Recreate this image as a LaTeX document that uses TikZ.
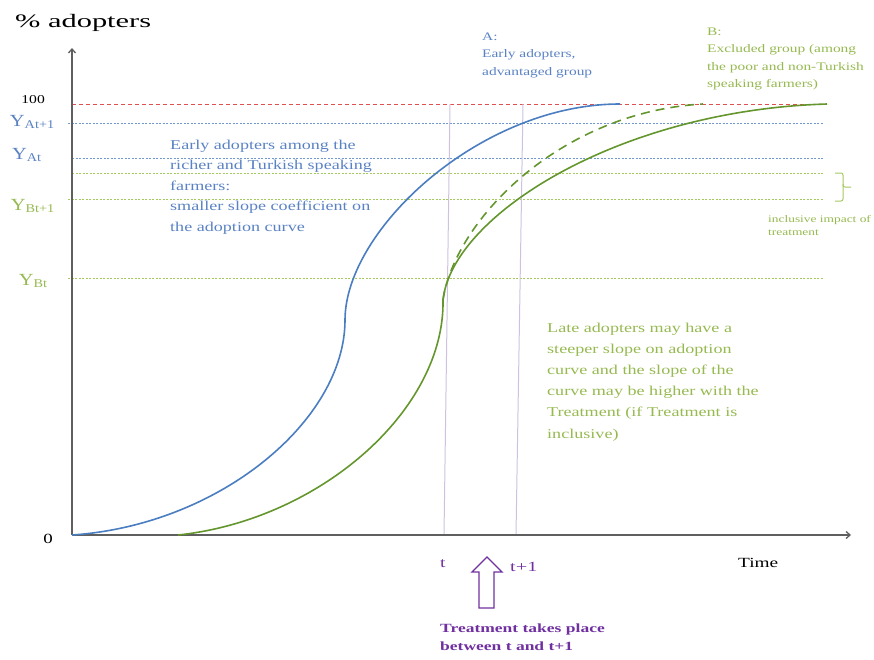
\documentclass[tikz,border=0pt]{standalone}
\usepackage{fontspec}
\usepackage{graphicx}
\setmainfont{Liberation Serif}
\usetikzlibrary{arrows.meta}
\definecolor{cblue}{RGB}{74,126,193}
\definecolor{tblue}{RGB}{90,130,195}
\definecolor{cgreen}{RGB}{100,150,45}
\definecolor{tgreen}{RGB}{150,185,80}
\definecolor{lgreen}{RGB}{165,200,95}
\definecolor{cred}{RGB}{225,80,80}
\definecolor{cpurple}{RGB}{112,48,160}
\definecolor{lpurple}{RGB}{205,195,225}
\definecolor{axisgray}{RGB}{95,95,95}
\newcommand{\wtext}[2][1.34]{\scalebox{#1}[1]{\begin{tabular}[t]{@{}l@{}}#2\end{tabular}}}
\tikzset{
  axisline/.style={draw=axisgray, line width=1.3pt, -{Straight Barb[length=4pt,width=7pt]}},
  refline/.style={line width=0.8pt, dash pattern=on 2pt off 1.5pt},
  curvea/.style={draw=cblue, line width=1.6pt},
  curveb/.style={draw=cgreen, line width=1.6pt},
  tline/.style={draw=lpurple, line width=1pt},
  lbl/.style={inner sep=0pt, anchor=base east},
  txt/.style={inner sep=0pt, anchor=base west},
}
\begin{document}
\begin{tikzpicture}[x=1pt,y=-1pt]
\useasboundingbox (0,0) rectangle (874,659);
% reference lines
\draw[refline, cred, dash pattern=on 4pt off 3pt] (72,104) -- (828,104);
\draw[refline, cblue!80] (68,123) -- (824,123);
\draw[refline, cblue!80] (72,158) -- (824,158);
\draw[refline, lgreen] (72,173) -- (824,173);
\draw[refline, lgreen] (68,199) -- (824,199);
\draw[refline, lgreen] (68,278) -- (824,278);
% time lines
\draw[tline] (444,535) -- (450,104);
\draw[tline] (516,535) -- (523,104);
% axes
\coordinate (O) at (72,535);
\coordinate (ytop) at (72,48);
\coordinate (xend) at (851,535);
\draw[axisline] (O) -- (ytop);
\draw[axisline] (O) -- (xend);
% curves
\draw[curvea] (72,535) .. controls (220,525) and (345,420) .. (345,320)
                        .. controls (345,230) and (480,104) .. (620,104);
\draw[curveb] (178,535) .. controls (320,520) and (445,410) .. (443,300)
                         .. controls (452,215) and (620,110) .. (827,104);
\draw[curveb, dash pattern=on 9pt off 6pt] (443,300) .. controls (455,220) and (560,112) .. (703,104);
% brace
\draw[draw=lgreen, line width=1pt, rounded corners=2pt] (835,173) -- (843,173) -- (843,187) -- (851,187);
\draw[draw=lgreen, line width=1pt, rounded corners=2pt] (843,184) -- (843,201) -- (835,201);
% axis labels
\node[txt, font=\fontsize{19}{19}\selectfont] (ylab) at (15,27) {\wtext[1.6]{\% adopters}};
\node[txt, font=\fontsize{14}{14}\selectfont] (xlab) at (738,567) {\wtext[1.38]{Time}};
\node[lbl, font=\fontsize{14}{14}\selectfont] (zero) at (53,543) {\scalebox{1.35}[1]{0}};
\node[lbl, font=\fontsize{12}{12}\selectfont] (hundred) at (45,103) {\scalebox{1.3}[1]{100}};
\node[lbl, text=tblue, font=\fontsize{17}{17}\selectfont] (yat1) at (55,126) {\scalebox{1.2}[1]{Y\textsubscript{At+1}}};
\node[lbl, text=tblue, font=\fontsize{17}{17}\selectfont] (yat) at (42,159) {\scalebox{1.2}[1]{Y\textsubscript{At}}};
\node[lbl, text=tgreen, font=\fontsize{17}{17}\selectfont] (ybt1) at (55,210) {\scalebox{1.2}[1]{Y\textsubscript{Bt+1}}};
\node[lbl, text=tgreen, font=\fontsize{17}{17}\selectfont] (ybt) at (48,285) {\scalebox{1.2}[1]{Y\textsubscript{Bt}}};
% time labels
\node[txt, text=cpurple, font=\fontsize{14}{14}\selectfont] (tl) at (440,567) {\scalebox{1.4}[1]{t}};
\node[txt, text=cpurple, font=\fontsize{14}{14}\selectfont] (t1l) at (510,571) {\scalebox{1.45}[1]{t+1}};
% hollow arrow
\draw[draw=cpurple, line width=1.3pt, line join=miter] (487,557) -- (502,572) -- (494,572) -- (494,608) -- (479,608) -- (479,572) -- (472,572) -- cycle;
\node[txt, text=cpurple, font=\bfseries\fontsize{12.5}{18}\selectfont] (treat) at (440,632) {\wtext[1.4]{Treatment takes place\\between t and t+1}};
% text blocks
\node[txt, text=tblue, font=\fontsize{11.5}{17.5}\selectfont] (atext) at (482,40) {\wtext{A:\\Early adopters,\\advantaged group}};
\node[txt, text=tgreen, font=\fontsize{11.5}{17.5}\selectfont] (btext) at (707,35) {\wtext{B:\\Excluded group (among\\the poor and non-Turkish\\speaking farmers)}};
\node[txt, text=tblue, font=\fontsize{13.5}{20.5}\selectfont] (early) at (170,149) {\wtext{Early adopters among the\\richer and Turkish speaking\\farmers:\\smaller slope coefficient on\\the adoption curve}};
\node[txt, text=tgreen, font=\fontsize{13.5}{21.2}\selectfont] (late) at (547,332) {\wtext{Late adopters may have a\\steeper slope on adoption\\curve and the slope of the\\curve may be higher with the\\Treatment (if Treatment is\\inclusive)}};
\node[txt, text=tgreen, font=\fontsize{10}{13.5}\selectfont] (incl) at (768,222) {\wtext{inclusive impact of\\treatment}};
\end{tikzpicture}
\end{document}
